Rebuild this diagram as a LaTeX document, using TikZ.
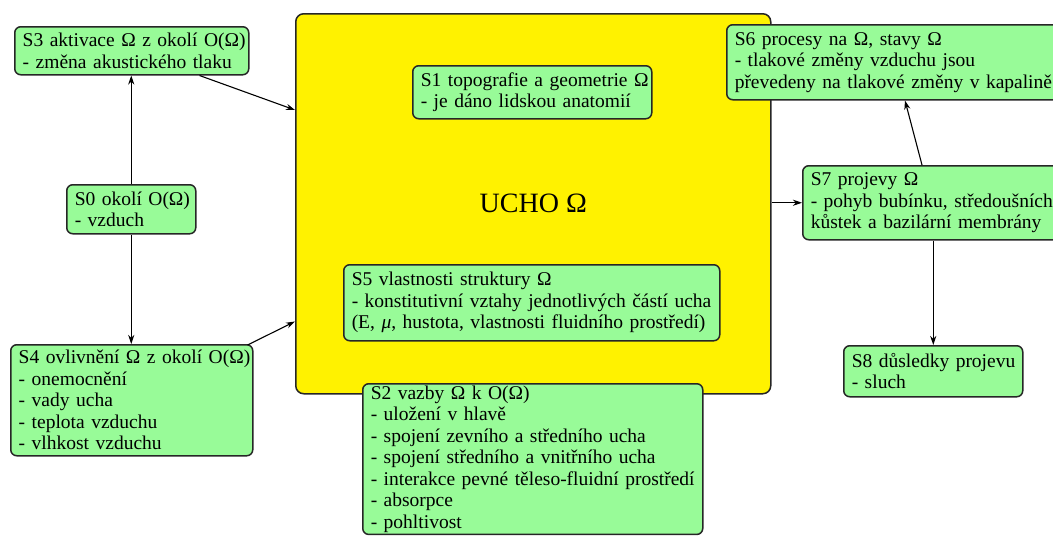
\documentclass[tikz,border=0pt]{standalone}
\usepackage{fontspec}
\setmainfont{Liberation Serif}
\usetikzlibrary{arrows.meta}
\newcommand\lnb[1]{\mbox{#1}}
\begin{document}
\begin{tikzpicture}[x=1pt,y=-1pt,
  box/.style={draw=black!85,line width=1.5pt,rounded corners=6pt,
     anchor=north west,align=left,inner xsep=8pt,inner ysep=2pt,
     font=\fontsize{19.5}{21.5}\selectfont},
  arr/.style={-{Stealth[length=9pt,width=6pt]},line width=1.1pt}]
\definecolor{pg}{RGB}{152,251,152}
\tikzset{box/.append style={fill=pg}}
\useasboundingbox (0,0) rectangle (1053,536);
\clip (0,0) rectangle (1053,536);
\node[draw=black!85,line width=1.5pt,fill=yellow,rounded corners=8pt,anchor=north west,
  minimum width=475pt,minimum height=380pt,inner sep=0pt,font=\fontsize{28}{30}\selectfont]
  (ucho) at (295,13) {UCHO Ω};
\node[box,text width=223pt,minimum height=53pt] (S1) at (412,65)
  {\lnb{S1 topografie a geometrie Ω}\\\lnb{- je dáno lidskou anatomií}};
\node[box,text width=360pt,minimum height=76pt] (S5) at (343,264)
  {\lnb{S5 vlastnosti struktury Ω}\\\lnb{- konstitutivní vztahy jednotlivých částí ucha}\\\lnb{(E, {\itshape μ}, hustota, vlastnosti fluidního prostředí)}};
\node[box,text width=324pt,minimum height=149pt] (S2) at (362,383)
  {\lnb{S2 vazby Ω k O(Ω)}\\\lnb{- uložení v hlavě}\\\lnb{- spojení zevního a středního ucha}\\\lnb{- spojení středního a vnitřního ucha}\\\lnb{- interakce pevné těleso-fluidní prostředí}\\\lnb{- absorpce}\\\lnb{- pohltivost}};
\node[box,text width=218pt,minimum height=48pt] (S3) at (14,26)
  {\lnb{S3 aktivace Ω z okolí O(Ω)}\\\lnb{- změna akustického tlaku}};
\node[box,text width=113pt,minimum height=49pt] (S0) at (66,184)
  {\lnb{S0 okolí O(Ω)}\\\lnb{- vzduch}};
\node[box,text width=226pt,minimum height=111pt] (S4) at (10,344)
  {\lnb{S4 ovlivnění Ω z okolí O(Ω)}\\\lnb{- onemocnění}\\\lnb{- vady ucha}\\\lnb{- teplota vzduchu}\\\lnb{- vlhkost vzduchu}};
\node[box,text width=330pt,minimum height=75pt] (S6) at (726,24)
  {\lnb{S6 procesy na Ω, stavy Ω}\\\lnb{- tlakové změny vzduchu jsou}\\\lnb{převedeny na tlakové změny v kapalině}};
\node[box,text width=255pt,minimum height=74pt] (S7) at (802,165)
  {\lnb{S7 projevy Ω}\\\lnb{- pohyb bubínku, středoušních}\\\lnb{kůstek a bazilární membrány}};
\node[box,text width=163pt,minimum height=51pt] (S8) at (843,345)
  {\lnb{S8 důsledky projevu}\\\lnb{- sluch}};
\draw[arr] (S0.north) -- (S0.north |- S3.south);
\draw[arr] (S0.south) -- (S0.south |- S4.north);
\draw[arr] ([xshift=-50pt]S3.south east) -- ([yshift=-97pt]ucho.north west);
\draw[arr] ([xshift=-6pt,yshift=-1pt]S4.north east) -- ([yshift=73pt]ucho.south west);
\draw[arr] (S7.west -| ucho.east) -- (S7.west);
\draw[arr] ([xshift=120pt]S7.north west) -- ([xshift=179pt]S6.south west);
\draw[arr] (S8.north |- S7.south) -- (S8.north);
\end{tikzpicture}
\end{document}
